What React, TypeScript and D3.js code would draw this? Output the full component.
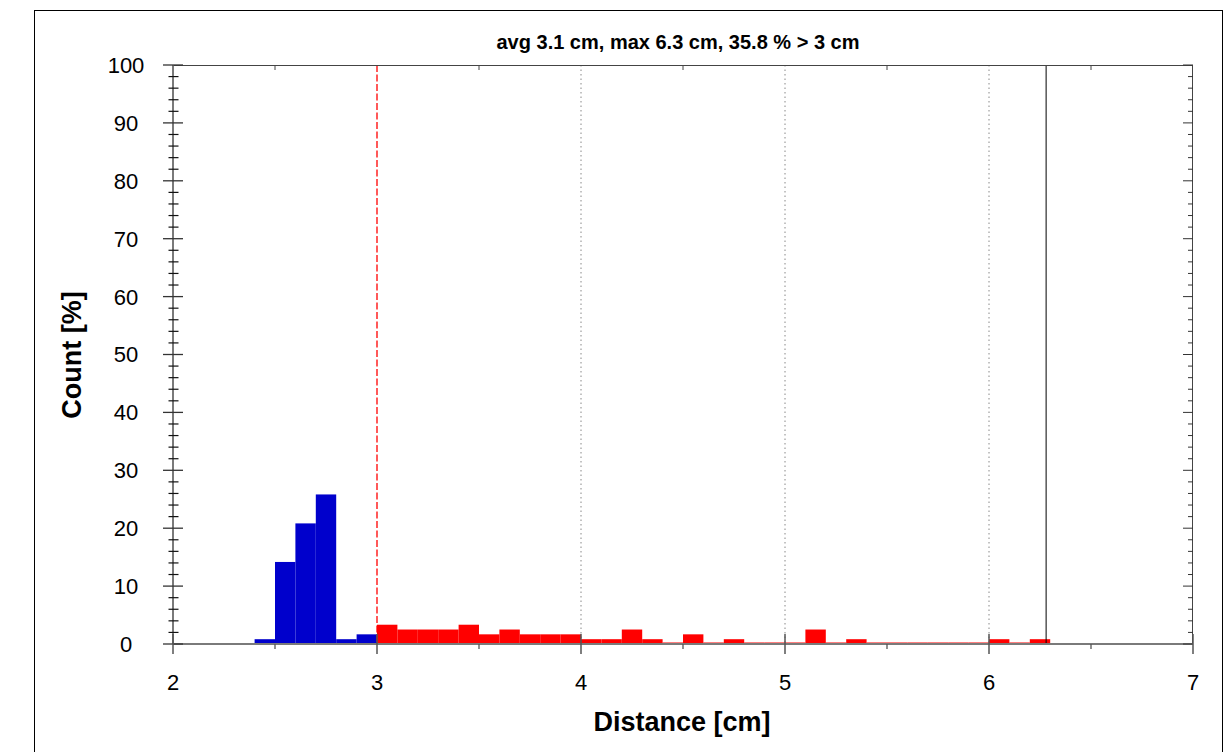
import React from "react";
import * as d3 from "d3";

const title = "avg 3.1 cm, max 6.3 cm, 35.8 % > 3 cm";
const xLabel = "Distance [cm]";
const yLabel = "Count [%]";

const blueStarts = [2.4, 2.5, 2.6, 2.7, 2.8, 2.9];
const blueValues = [0.83, 14.17, 20.83, 25.83, 0.83, 1.67];

const redStarts = [
  3.0, 3.1, 3.2, 3.3, 3.4, 3.5, 3.6, 3.7, 3.8, 3.9,
  4.0, 4.1, 4.2, 4.3, 4.4, 4.5, 4.6, 4.7, 4.8, 4.9,
  5.0, 5.1, 5.2, 5.3, 5.4, 5.5, 5.6, 5.7, 5.8, 5.9,
  6.0, 6.1, 6.2,
];
const redValues = [
  3.33, 2.5, 2.5, 2.5, 3.33, 1.67, 2.5, 1.67, 1.67, 1.67,
  0.83, 0.83, 2.5, 0.83, 0, 1.67, 0, 0.83, 0, 0,
  0, 2.5, 0, 0.83, 0, 0, 0, 0, 0, 0,
  0.83, 0, 0.83,
];
const binWidth = 0.1;

const xTicks = [2, 3, 4, 5, 6, 7];
const xMinorTicks = [2.5, 3.5, 4.5, 5.5, 6.5];
const yTicks = [0, 10, 20, 30, 40, 50, 60, 70, 80, 90, 100];
const gridX = [4, 5, 6];
const thresholdX = 3;
const maxX = 6.28;

export default function App() {
  const W = 1231;
  const H = 752;
  const x = d3.scaleLinear().domain([2, 7]).range([173, 1193]);
  const y = d3.scaleLinear().domain([0, 100]).range([644, 65]);
  const yMinor = d3.range(0, 101, 2).filter((v) => v % 10 !== 0);
  const font = "Arial, 'Liberation Sans', sans-serif";
  const axisGrey = "#7a7a7a";

  const bar = (s: number, v: number, color: string, key: string) => {
    const x0 = x(s);
    const x1 = x(s + binWidth);
    const h = Math.max(y(0) - y(v), 1.5);
    return <rect key={key} x={x0} y={y(0) - h} width={x1 - x0} height={h} fill={color} />;
  };

  return (
    <svg width={W} height={H} style={{ position: "absolute", left: 0, top: 0 }}>
      <rect x={0} y={0} width={W} height={H} fill="#fff" />
      <rect x={34.5} y={10.5} width={1188} height={760} fill="none" stroke="#000" strokeWidth={1} />

      {/* grid */}
      {gridX.map((g) => (
        <line key={"g" + g} x1={x(g)} x2={x(g)} y1={y(100)} y2={y(0)} stroke="#888" strokeWidth={1} strokeDasharray="1.5,3" />
      ))}

      {/* bars */}
      {blueStarts.map((s, i) => bar(s, blueValues[i], "#0000cc", "b" + i))}
      {redStarts.map((s, i) => bar(s, redValues[i], "#ff0000", "r" + i))}

      {/* threshold and max lines */}
      <line x1={x(thresholdX)} x2={x(thresholdX)} y1={y(100)} y2={y(0)} stroke="#ff0000" strokeWidth={1.3} strokeDasharray="7,2.5" />
      <line x1={x(maxX)} x2={x(maxX)} y1={y(100)} y2={y(0)} stroke="#000" strokeWidth={1} />

      {/* frame axes */}
      <line x1={x(2)} x2={x(7)} y1={y(100) + 0.5} y2={y(100) + 0.5} stroke="#444" strokeWidth={1} />
      <line x1={x(7) - 0.5} x2={x(7) - 0.5} y1={y(100)} y2={y(0)} stroke="#444" strokeWidth={1} />
      <line x1={x(2)} x2={x(7)} y1={y(0)} y2={y(0)} stroke={axisGrey} strokeWidth={2} />
      <line x1={x(2)} x2={x(2)} y1={y(100)} y2={y(0)} stroke={axisGrey} strokeWidth={2} />

      {/* left axis ticks */}
      {yMinor.map((v) => (
        <line key={"ym" + v} x1={x(2) - 4.5} x2={x(2) + 5.5} y1={y(v)} y2={y(v)} stroke="#111" strokeWidth={1.2} />
      ))}
      {yTicks.map((v) => (
        <line key={"yM" + v} x1={x(2) - 10} x2={x(2) + 10} y1={y(v)} y2={y(v)} stroke="#333" strokeWidth={1.3} />
      ))}
      {/* right axis ticks */}
      {yMinor.map((v) => (
        <line key={"yrm" + v} x1={x(7) - 5} x2={x(7)} y1={y(v)} y2={y(v)} stroke="#333" strokeWidth={1} />
      ))}
      {yTicks.map((v) => (
        <line key={"yrM" + v} x1={x(7) - 10} x2={x(7)} y1={y(v)} y2={y(v)} stroke="#333" strokeWidth={1} />
      ))}
      {/* bottom axis ticks */}
      {xTicks.map((v) => (
        <line key={"xM" + v} x1={x(v)} x2={x(v)} y1={y(0) - 10} y2={y(0) + 10} stroke="#555" strokeWidth={1.5} />
      ))}
      {xMinorTicks.map((v) => (
        <line key={"xm" + v} x1={x(v)} x2={x(v)} y1={y(0)} y2={y(0) + 5} stroke="#555" strokeWidth={1.3} />
      ))}
      {/* top axis ticks */}
      {xMinorTicks.map((v) => (
        <line key={"xtm" + v} x1={x(v)} x2={x(v)} y1={y(100)} y2={y(100) + 5} stroke="#444" strokeWidth={1} />
      ))}

      {/* tick labels */}
      {yTicks.map((v) => (
        <text key={"yl" + v} x={126} y={y(v)} dy="0.36em" textAnchor="middle" fontFamily={font} fontSize={22} fill="#000">
          {v}
        </text>
      ))}
      {xTicks.map((v) => (
        <text key={"xl" + v} x={x(v)} y={690} textAnchor="middle" fontFamily={font} fontSize={22} fill="#000">
          {v}
        </text>
      ))}

      {/* titles */}
      <text x={678} y={49} textAnchor="middle" fontFamily={font} fontSize={20} fontWeight="bold" fill="#000">
        {title}
      </text>
      <text x={682} y={731} textAnchor="middle" fontFamily={font} fontSize={27} fontWeight="bold" fill="#000">
        {xLabel}
      </text>
      <text transform="translate(81,355) rotate(-90)" textAnchor="middle" fontFamily={font} fontSize={27} fontWeight="bold" fill="#000">
        {yLabel}
      </text>
    </svg>
  );
}
